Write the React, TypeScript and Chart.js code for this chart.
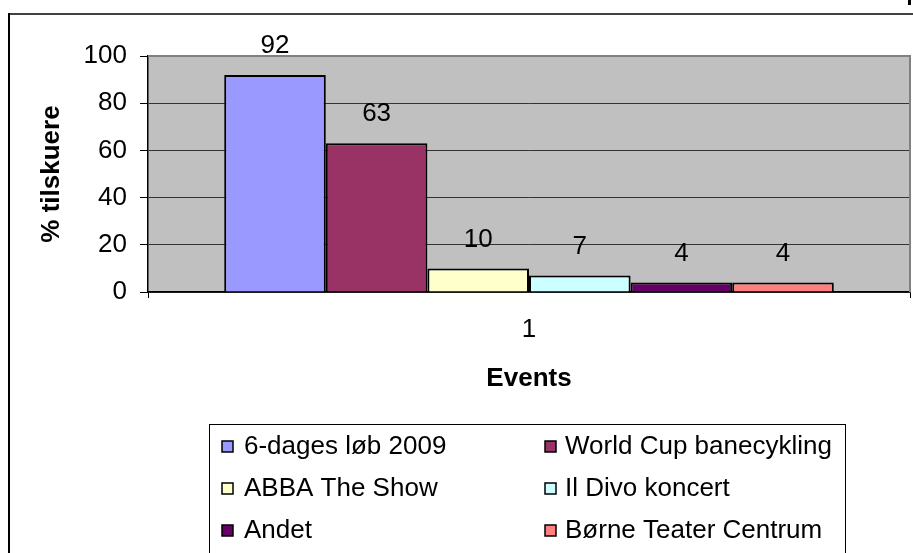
import React, { useEffect, useRef } from "react";
import { Chart, registerables } from "chart.js";

Chart.register(...registerables);

const categories: string[] = ["1"];
const seriesNames: string[] = [
  "6-dages løb 2009",
  "World Cup banecykling",
  "ABBA The Show",
  "Il Divo koncert",
  "Andet",
  "Børne Teater Centrum",
];
const seriesValues: number[] = [92, 63, 10, 7, 4, 4];
const seriesColors: string[] = ["#9999FF", "#993366", "#FFFFCC", "#CCFFFF", "#660066", "#FF8080"];
const yTicks: number[] = [0, 20, 40, 60, 80, 100];
const yTitle = "% tilskuere";
const xTitle = "Events";

const FONT = "'Liberation Sans', Arial, sans-serif";
const FS = 26;

const framePlugin = {
  id: "frame",
  beforeDraw(chart: any) {
    const { ctx, chartArea } = chart;
    ctx.save();
    ctx.fillStyle = "#ffffff";
    ctx.fillRect(0, 0, chart.width, chart.height);
    // outer chart frame
    ctx.fillStyle = "#404040";
    ctx.fillRect(8, 13, chart.width - 8, 2);
    ctx.fillStyle = "#000000";
    ctx.fillRect(8, 13, 2, chart.height - 13);
    ctx.fillRect(908, 0, 3, 5);
    // plot area background
    ctx.fillStyle = "#C0C0C0";
    ctx.fillRect(chartArea.left, chartArea.top, chartArea.right - chartArea.left, chartArea.bottom - chartArea.top);
    ctx.restore();
  },
  afterDatasetsDraw(chart: any) {
    const { ctx, chartArea } = chart;
    ctx.save();
    ctx.strokeStyle = "#808080";
    ctx.lineWidth = 2;
    ctx.beginPath();
    ctx.moveTo(chartArea.left, chartArea.top);
    ctx.lineTo(chartArea.right, chartArea.top);
    ctx.lineTo(chartArea.right, chartArea.bottom);
    ctx.stroke();
    // data labels
    ctx.fillStyle = "#000";
    ctx.font = `${FS}px ${FONT}`;
    ctx.textAlign = "center";
    ctx.textBaseline = "middle";
    chart.data.datasets.forEach((ds: any, i: number) => {
      const meta = chart.getDatasetMeta(i);
      meta.data.forEach((bar: any, j: number) => {
        ctx.fillText(String(ds.data[j]), bar.x, bar.y - 29);
      });
    });
    ctx.restore();
  },
  afterDraw(chart: any) {
    const { ctx } = chart;
    ctx.save();
    // legend box
    ctx.strokeStyle = "#000";
    ctx.lineWidth = 1;
    ctx.strokeRect(209.5, 424.5, 636, 200);
    ctx.font = `${FS}px ${FONT}`;
    ctx.textAlign = "left";
    ctx.textBaseline = "middle";
    chart.data.datasets.forEach((ds: any, i: number) => {
      const col = i % 2;
      const row = Math.floor(i / 2);
      const mx = col ? 545 : 222;
      const tx = col ? 565 : 244;
      const y = 447 + row * 42;
      ctx.fillStyle = ds.backgroundColor;
      ctx.fillRect(mx, y - 6, 11, 11);
      ctx.strokeStyle = "#000";
      ctx.lineWidth = 1.5;
      ctx.strokeRect(mx, y - 6, 11, 11);
      ctx.fillStyle = "#000";
      ctx.fillText(ds.label, tx, y);
    });
    ctx.restore();
  },
};

export default function App() {
  const ref = useRef<HTMLCanvasElement | null>(null);
  useEffect(() => {
    if (!ref.current) return;
    const chart = new Chart(ref.current, {
      type: "bar",
      data: {
        labels: categories,
        datasets: seriesNames.map((name, i) => ({
          label: name,
          data: [seriesValues[i]],
          backgroundColor: seriesColors[i],
          borderColor: "#000000",
          borderWidth: 2,
          borderSkipped: "bottom",
          categoryPercentage: 0.8,
          barPercentage: 1.0,
        })),
      },
      options: {
        animation: false,
        responsive: false,
        maintainAspectRatio: false,
        events: [],
        layout: { padding: { left: 0, right: 3, top: 56, bottom: 159 } },
        plugins: {
          legend: { display: false },
          tooltip: { enabled: false },
          title: { display: false },
        },
        scales: {
          x: {
            type: "category",
            offset: true,
            grid: {
              display: true,
              drawOnChartArea: false,
              offset: true,
              drawTicks: true,
              tickLength: 6,
              color: "#000",
              tickColor: "#000",
            },
            border: { display: true, color: "#000", width: 1.5 },
            ticks: {
              color: "#000",
              font: { family: FONT, size: FS },
              padding: 16,
              maxRotation: 0,
            },
            title: {
              display: true,
              text: xTitle,
              color: "#000",
              font: { family: FONT, size: FS, weight: "bold" },
              padding: { top: 0, bottom: 0 },
            },
            afterFit: (scale: any) => {
              scale.height = 102;
            },
          },
          y: {
            min: 0,
            max: 100,
            afterBuildTicks: (scale: any) => {
              scale.ticks = yTicks.map((v) => ({ value: v }));
            },
            grid: {
              display: true,
              color: "#333",
              lineWidth: 1,
              drawTicks: true,
              tickLength: 8,
              tickColor: "#000",
            },
            border: { display: true, color: "#000", width: 1.5 },
            ticks: {
              color: "#000",
              font: { family: FONT, size: FS },
              padding: 13,
            },
            title: {
              display: true,
              text: yTitle,
              color: "#000",
              font: { family: FONT, size: FS, weight: "bold" },
              padding: { top: 36, bottom: 0 },
            },
            afterFit: (scale: any) => {
              scale.width = 148;
            },
          },
        },
      },
      plugins: [framePlugin],
    });
    return () => chart.destroy();
  }, []);
  return (
    <div style={{ position: "absolute", left: 0, top: 0, width: 913, height: 553, overflow: "hidden" }}>
      <canvas ref={ref} width={913} height={553} style={{ display: "block", width: 913, height: 553 }} />
    </div>
  );
}
